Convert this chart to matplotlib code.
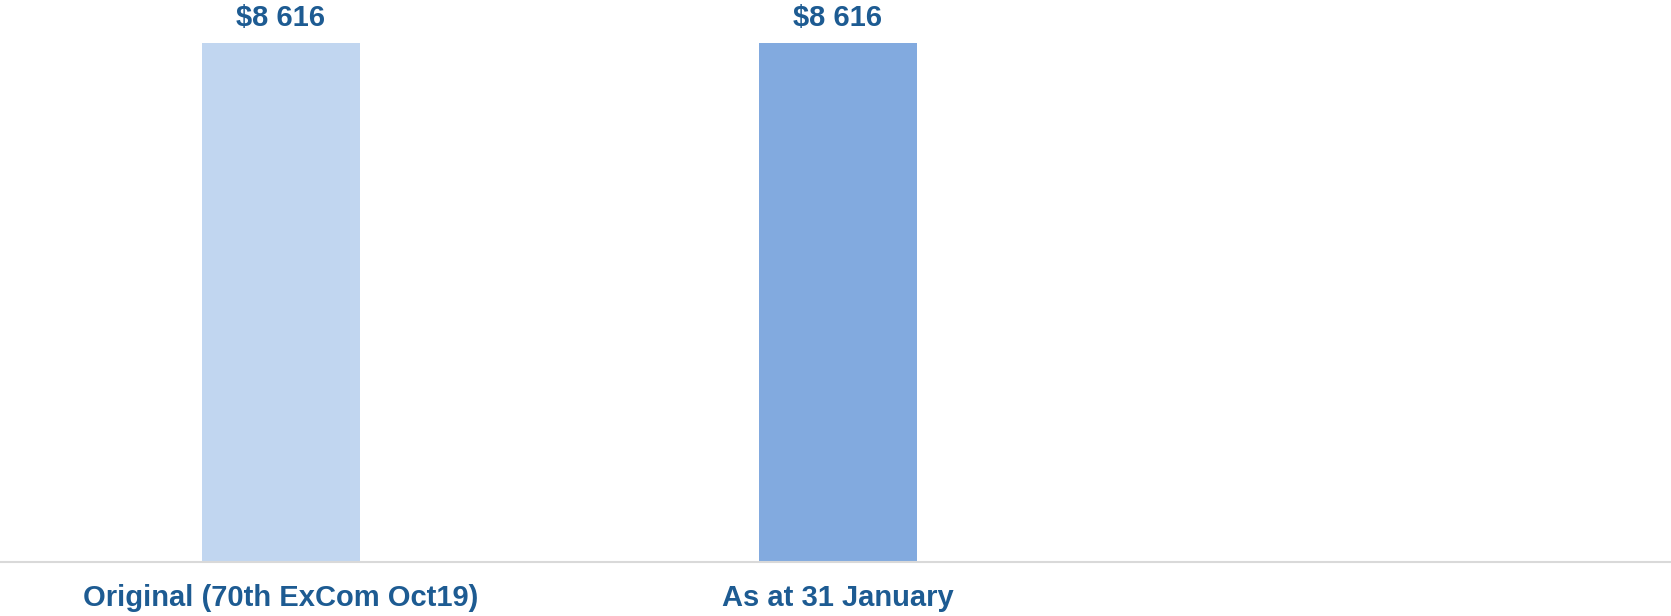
import matplotlib
matplotlib.use("Agg")
import matplotlib.pyplot as plt

plt.rcParams['font.family'] = ['Liberation Sans', 'DejaVu Sans']

# Chart data
categories = ['Original (70th ExCom Oct19)', 'As at 31 January', '']
values = [8616, 8616, None]
value_labels = ['$8 616', '$8 616', '']
bar_colors = ['#C1D6F0', '#82AADF', '#FFFFFF']

text_color = '#1D5B92'

fig = plt.figure(figsize=(16.71, 6.16), dpi=100)
ax = fig.add_axes([0, 54 / 616, 1, 562 / 616])

xs = list(range(len(categories)))
for x, v, c in zip(xs, values, bar_colors):
    if v is None:
        continue
    ax.bar(x + 0.004, v, width=0.284, color=c, zorder=2)

for x, v, lab in zip(xs, values, value_labels):
    if v is None:
        continue
    ax.annotate(lab, xy=(x + 0.004, v), xytext=(0, 12), textcoords='offset points',
                ha='center', va='baseline', fontsize=21, fontweight='bold',
                color=text_color)

ax.set_xlim(-0.5, len(categories) - 0.5)
ax.set_ylim(0, 9330)

ax.set_xticks([x + 0.004 for x in xs])
ax.set_xticklabels(categories, fontsize=21, fontweight='bold', color=text_color)
ax.tick_params(axis='x', length=0, pad=16)
ax.set_yticks([])

for s in ['top', 'right', 'left']:
    ax.spines[s].set_visible(False)
ax.spines['bottom'].set_color('#D9D9D9')
ax.spines['bottom'].set_linewidth(1.5)

fig.savefig('out.png', dpi=100)
